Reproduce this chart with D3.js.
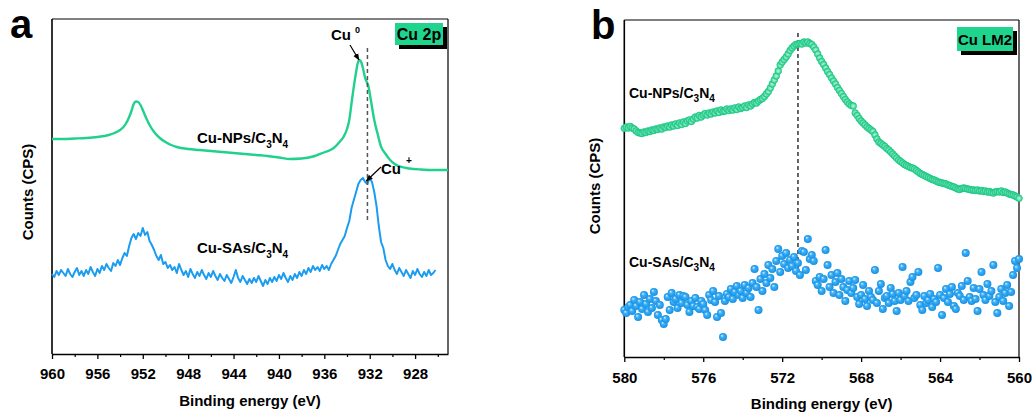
<!DOCTYPE html>
<html><head><meta charset="utf-8">
<script src="https://cdn.jsdelivr.net/npm/d3@7/dist/d3.min.js"></script>
<style>
body{margin:0;background:#fff}
text{font-family:"Liberation Sans",Arial,Helvetica,sans-serif;font-weight:bold;fill:#000}
</style>
</head><body>
<svg id="c" width="1033" height="414"></svg>
<script>
// ---------- DATA ----------
// Panel a: Cu 2p
const xTicksA = [960, 956, 952, 948, 944, 940, 936, 932, 928];
const xMinorA = [958, 954, 950, 946, 942, 938, 934, 930, 926];
const npsEnergyA = [960,959,958,957,956,955,954.5,954,953.5,953.2,953,952.8,952.6,952.4,952.2,952,951.7,951.4,951,950.5,950,949.5,949,948,947,946,945,944,943,942,941,940,939,938,937,936.5,935.8,935.2,934.7,934.3,934.0,933.8,933.6,933.4,933.2,933.05,932.9,932.75,932.6,932.4,932.1,931.9,931.6,931.3,931.0,930.6,930.2,929.8,929.3,928.5,927.5,926.5,925.1];
const npsCountsA = [215,215,215.5,216,217,219,221,224,230,237,243,250,252.5,252,249,244,236,229,222,216,212,209,207,205,204,203,202,201,200,199,198,196.5,195,195.5,197.5,199.5,202.5,205.7,211.5,217.3,225,234,251,267.3,282,291,294,292,286,276,267,254,234,220,207.3,200,194,190,187.3,185.5,184.5,184,184];
const sasStartA = 960, sasEndA = 926.2;
const sasCountsA = [80,77,83,79,84,81,78,85,80,77,82,86,79,83,78,84,80,87,82,78,85,81,88,84,90,86,83,91,88,94,89,96,101,98,108,116,120,115,121,118,126,119,122,113,109,104,98,94,99,90,92,86,89,84,87,81,90,84,79,83,77,85,80,76,82,78,84,79,75,81,77,83,78,74,80,76,73,79,75,71,77,84,76,72,78,74,70,75,71,76,72,78,73,68,74,70,76,72,77,73,79,75,81,76,72,78,74,80,76,82,78,84,80,86,82,88,84,87,83,89,85,88,84,90,94,98,104,110,114,118,126,133,146,154,162,170,174,176,172,170,176,172,162,148,128,112,106,94,88,85,90,84,80,86,82,78,84,80,76,83,79,85,80,77,82,78,84,79,81,84];
const peakA = 932.2;        // dashed reference line position (eV)
const peakSpanA = [134, 306];
const cu0A = 932.9, cuPlusA = 932.3;

// Panel b: Cu LM2
const xTicksB = [580, 576, 572, 568, 564, 560];
const xMinorB = [578, 574, 570, 566, 562];
const startB = 580, endB = 560;
const npsCountsB = [228.7,230,229,230.5,229,228,226,224.5,224,223.5,225,224.5,226,225.5,227,226.5,228,227.5,229,228,230,229.5,231,230,232,231,233,231.5,234,232.5,235,233.5,236,237,235.5,238,240,239,241.5,240,242,243.5,242,244,243,245,244,246,244.5,247,245.5,246,248,246.5,248,247,249,247.5,250,248.5,249.5,251,249.5,252,251,253,254.5,254,256,257.5,258.5,260.5,263,265.5,269,273,277,281,286,292,295,297.5,300,303,306.5,309,311,312.5,313,313.5,313,315,314,315,313.5,312.5,310,307,303,299,295.5,292.5,289,285.5,282.5,279,276,273,269.5,266.5,263.5,260.5,257.5,255,253,251.5,251,244,241.5,238.5,236,234,232,230,228.5,227,225.5,222,218,215,213.5,212,210.5,208.5,207,205,203,201,199,197,195.5,194,192.5,191.5,190.5,189.5,189,188,186.5,185,183.5,182.5,181.5,180.5,179.5,178.5,177.5,177,176,175,174.5,174,173.5,173,172,171.5,170.5,170,169,168,167.5,168.5,169,168.5,168,167.5,167,167,166.5,167,166,166.5,165.5,166,165,165.5,164.5,164,165,165.5,165,166,164.5,165,164,163,162.5,162,161,160,158.7];
const sasCountsB = [47,44,50,52,46,57,51,40,55,48,62,53,45,58,49,65,56,42,52,37,33,38,60,47,64,55,58,49,62,54,61,60,52,45,56,51,59,50,48,56,53,47,42,62,57,66,55,40,61,44,20,56,63,60,68,58,65,71,62,66,59,72,64,69,60,74,88,70,47,78,66,83,74,92,79,88,70,96,108,85,101,93,104,89,97,91,100,86,94,82,106,105,87,118,98,102,96,76,72,80,66,78,107,92,70,82,64,75,84,62,78,70,56,67,76,64,69,77,60,53,62,72,58,51,66,60,57,87,54,66,73,48,59,61,54,69,63,56,46,64,57,90,61,66,56,75,80,59,62,85,52,47,61,54,57,63,50,58,55,89,62,42,59,68,55,63,70,51,48,64,61,71,57,104,76,60,56,69,58,46,68,85,62,57,73,61,66,92,55,44,60,68,56,64,72,51,65,82,96,89,98];
const peakB = 571.2;
const peakSpanB = [80, 324];

const labelsNP = ["Cu-NPs/C", "3", "N", "4"];
const labelsSA = ["Cu-SAs/C", "3", "N", "4"];

// ---------- STYLE ----------
const GREEN = "#22d08d", BLUE = "#1b9cf0", BOXGREEN = "#1fd58d";
const svg = d3.select("#c");
const defs = svg.append("defs");
const gg = defs.append("radialGradient").attr("id","gGreen").attr("cx","50%").attr("cy","50%").attr("r","50%");
gg.append("stop").attr("offset","0%").attr("stop-color","#bff5dc");
gg.append("stop").attr("offset","45%").attr("stop-color","#7fe6b8");
gg.append("stop").attr("offset","100%").attr("stop-color","#1cc886");
const gb = defs.append("radialGradient").attr("id","gBlue").attr("cx","50%").attr("cy","50%").attr("r","55%").attr("fx","35%").attr("fy","32%");
gb.append("stop").attr("offset","0%").attr("stop-color","#d8f0ff");
gb.append("stop").attr("offset","35%").attr("stop-color","#3fb0f6");
gb.append("stop").attr("offset","100%").attr("stop-color","#0f8ce0");
const mk = defs.append("marker").attr("id","arr").attr("viewBox","0 0 10 10").attr("refX",9).attr("refY",5)
  .attr("markerWidth",7).attr("markerHeight",7).attr("orient","auto-start-reverse").attr("markerUnits","userSpaceOnUse");
mk.append("path").attr("d","M0,1 L10,5 L0,9 Z").attr("fill","#000");

function chem(g, x, y, parts, size){
  const t = g.append("text").attr("x", x).attr("y", y).style("font-size", size+"px");
  const sub = Math.round(size*0.68), sh = Math.round(size*0.3);
  t.append("tspan").text(parts[0]);
  t.append("tspan").style("font-size", sub+"px").attr("dy", sh).text(parts[1]);
  t.append("tspan").attr("dy", -sh).text(parts[2]);
  t.append("tspan").style("font-size", sub+"px").attr("dy", sh).text(parts[3]);
  return t;
}

function frame(g, x, left, right, top, bottom, ticks, minor, tickSize, pad, titleY, titleX, letter, letterX, letterY, letterSize, box, boxLabel, boxFont){
  g.append("line").attr("x1",left).attr("x2",right).attr("y1",top).attr("y2",top).attr("stroke","#000").attr("stroke-width",1);
  g.append("line").attr("x1",right).attr("x2",right).attr("y1",top).attr("y2",bottom).attr("stroke","#000").attr("stroke-width",1.2);
  g.append("line").attr("x1",left).attr("x2",left).attr("y1",top).attr("y2",bottom).attr("stroke","#000").attr("stroke-width",1.6);
  const ax = g.append("g").attr("transform",`translate(0,${bottom})`)
    .call(d3.axisBottom(x).tickValues(ticks).tickSize(tickSize).tickSizeOuter(0).tickPadding(pad).tickFormat(d3.format("d")));
  ax.select(".domain").attr("stroke-width",1.6);
  ax.selectAll(".tick line").attr("stroke-width",1.3);
  ax.selectAll("text").style("font-size","15px").style("font-family",'"Liberation Sans",Arial,sans-serif').style("font-weight","bold");
  const axm = g.append("g").attr("transform",`translate(0,${bottom})`)
    .call(d3.axisBottom(x).tickValues(minor).tickSize(3).tickSizeOuter(0).tickFormat(""));
  axm.select(".domain").remove();
  axm.selectAll(".tick line").attr("stroke-width",1.2);
  g.append("text").attr("x",(left+right)/2).attr("y",titleY).attr("text-anchor","middle").style("font-size","15px").text("Binding energy (eV)");
  g.append("text").attr("transform",`translate(${titleX[0]},${titleX[1]}) rotate(-90)`).attr("text-anchor","middle").style("font-size","15px").text("Counts (CPS)");
  g.append("text").attr("x",letterX).attr("y",letterY).style("font-size",letterSize+"px").text(letter);
  g.append("rect").attr("x",box[0]+4).attr("y",box[1]+4).attr("width",box[2]).attr("height",box[3]).attr("fill","#000");
  g.append("rect").attr("x",box[0]).attr("y",box[1]).attr("width",box[2]).attr("height",box[3]).attr("fill",BOXGREEN);
  g.append("text").attr("x",box[0]+box[2]/2).attr("y",box[1]+box[3]/2+5.5).attr("text-anchor","middle").style("font-size",boxFont+"px").text(boxLabel);
}

// ---------- PANEL A ----------
const gA = svg.append("g");
const xA = d3.scaleLinear().domain([960, 925.1]).range([52, 448]);
const yA = d3.scaleLinear().domain([0, 335]).range([354, 19]);
frame(gA, xA, 52, 448, 19, 354, xTicksA, xMinorA, 5, 9, 406, [33,192], "a", 10, 38, 40, [395,23,48,22], "Cu 2p", 16);

const sasEA = sasCountsA.map((d,i)=> sasStartA - i*(sasStartA - sasEndA)/(sasCountsA.length-1));
gA.append("path").datum(sasCountsA.map((c,i)=>[sasEA[i], c]))
  .attr("fill","none").attr("stroke",BLUE).attr("stroke-width",2).attr("stroke-linejoin","round")
  .attr("d", d3.line().x(d=>xA(d[0])).y(d=>yA(d[1])));
gA.append("path").datum(npsCountsA.map((c,i)=>[npsEnergyA[i], c]))
  .attr("fill","none").attr("stroke",GREEN).attr("stroke-width",2.4)
  .attr("d", d3.line().x(d=>xA(d[0])).y(d=>yA(d[1])).curve(d3.curveMonotoneX));
gA.append("line").attr("x1",xA(peakA)).attr("x2",xA(peakA)).attr("y1",yA(peakSpanA[1])).attr("y2",yA(peakSpanA[0]))
  .attr("stroke","#555").attr("stroke-width",1.5).attr("stroke-dasharray","4,3");
chem(gA, 197, 143, labelsNP, 15);
chem(gA, 197, 253, labelsSA, 15);
gA.append("text").attr("x",331).attr("y",40).style("font-size","15px").text("Cu");
gA.append("text").attr("x",355).attr("y",33).style("font-size","9px").text("0");
gA.append("line").attr("x1",350).attr("y1",45).attr("x2",xA(cu0A)-0.5).attr("y2",yA(293)-1)
  .attr("stroke","#000").attr("stroke-width",1.2).attr("marker-end","url(#arr)");
gA.append("text").attr("x",381).attr("y",173.5).style("font-size","15px").text("Cu");
gA.append("text").attr("x",406).attr("y",164).style("font-size","10px").text("+");
gA.append("line").attr("x1",381).attr("y1",167).attr("x2",xA(cuPlusA)).attr("y2",181)
  .attr("stroke","#000").attr("stroke-width",1.2).attr("marker-end","url(#arr)");

// ---------- PANEL B ----------
const gB = svg.append("g");
const xB = d3.scaleLinear().domain([580, 560]).range([624.3, 1019]);
const yB = d3.scaleLinear().domain([0, 337]).range([357, 20]);
frame(gB, xB, 624.3, 1019, 20, 357, xTicksB, xMinorB, 5, 10, 409, [600,186], "b", 591, 39, 40, [957,27,56,24], "Cu LM2", 15);

gB.append("line").attr("x1",xB(peakB)).attr("x2",xB(peakB)).attr("y1",yB(peakSpanB[1])).attr("y2",yB(peakSpanB[0]))
  .attr("stroke","#333").attr("stroke-width",1.5).attr("stroke-dasharray","4,3");
const withE = arr => arr.map((c,i)=>[startB - i*(startB-endB)/(arr.length-1), c]);
gB.append("g").selectAll("circle").data(withE(npsCountsB)).join("circle")
  .attr("cx",d=>xB(d[0])).attr("cy",d=>yB(d[1])).attr("r",3.4)
  .attr("fill","url(#gGreen)").attr("stroke","#1cc886").attr("stroke-width",0.6);
gB.append("g").selectAll("circle").data(withE(sasCountsB)).join("circle")
  .attr("cx",d=>xB(d[0])).attr("cy",d=>yB(d[1])).attr("r",4)
  .attr("fill","url(#gBlue)");
chem(gB, 629, 98, labelsNP, 14);
chem(gB, 629, 267, labelsSA, 14);
</script>
</body></html>
